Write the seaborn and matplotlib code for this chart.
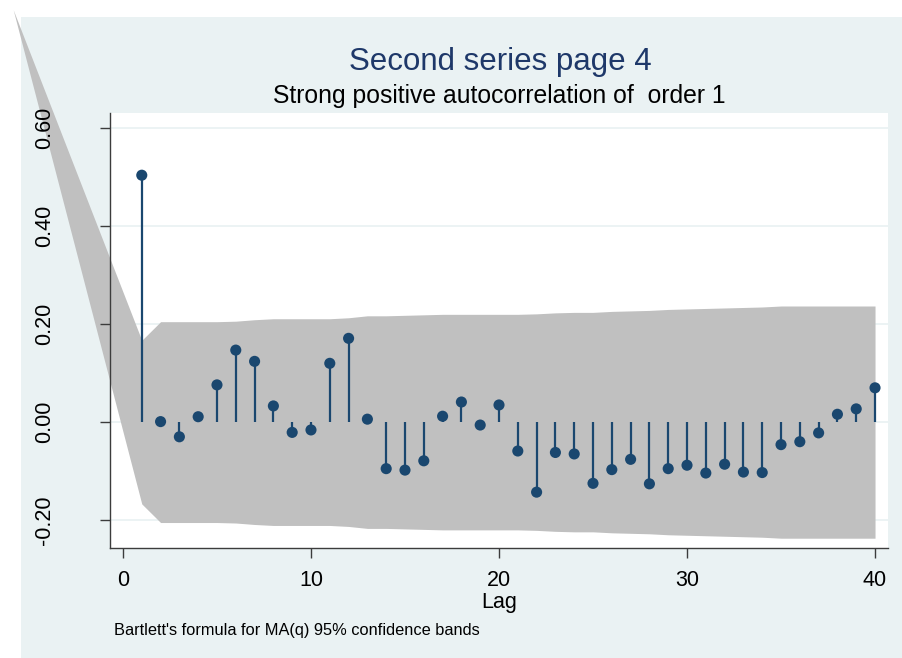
import matplotlib
matplotlib.use("Agg")
import matplotlib.pyplot as plt
from matplotlib.patches import Rectangle
import numpy as np
import pandas as pd
import seaborn as sns

# Autocorrelations by lag
lags = list(range(1, 41))
acf = [0.504, 0.001, -0.030, 0.011, 0.076, 0.147, 0.124, 0.033, -0.021, -0.016,
       0.120, 0.171, 0.006, -0.095, -0.098, -0.079, 0.012, 0.041, -0.006, 0.035,
       -0.059, -0.143, -0.062, -0.065, -0.125, -0.097, -0.076, -0.126, -0.095, -0.088,
       -0.104, -0.086, -0.102, -0.103, -0.046, -0.040, -0.022, 0.016, 0.027, 0.070]

# Half-width of the Bartlett 95% confidence band at each lag
band_half = [0.167, 0.205, 0.205, 0.205, 0.205, 0.206, 0.209, 0.211, 0.211, 0.211,
             0.211, 0.213, 0.217, 0.217, 0.218, 0.219, 0.220, 0.220, 0.220, 0.220,
             0.220, 0.221, 0.223, 0.224, 0.224, 0.226, 0.227, 0.228, 0.230, 0.231,
             0.232, 0.233, 0.234, 0.235, 0.237, 0.237, 0.237, 0.237, 0.237, 0.237]
# Leading vertex of the band polygon
band_tip_lag = -5.84
band_tip_val = 0.842

x_ticks = [0, 10, 20, 30, 40]
y_ticks = [-0.20, 0.00, 0.20, 0.40, 0.60]
y_tick_labels = ["-0.20", "0.00", "0.20", "0.40", "0.60"]

title = "Second series page 4"
subtitle = "Strong positive autocorrelation of  order 1"
x_title = "Lag"
note = "Bartlett's formula for MA(q) 95% confidence bands"

navy = "#1A476F"
bg = "#EAF2F3"
axis_col = "#3C3C3C"

sns.set_style("white")
plt.rcParams["font.family"] = ["Liberation Sans", "DejaVu Sans"]

W, H = 902, 658
fig = plt.figure(figsize=(W / 100, H / 100), dpi=100, facecolor="white")
fig.patches.append(Rectangle((21 / W, 0), 1 - 21 / W, 1 - 17 / H,
                             transform=fig.transFigure, facecolor=bg,
                             edgecolor="none", zorder=-10))

ax = fig.add_axes([110 / W, 1 - 548 / H, 778 / W, 435 / H])
ax.set_zorder(1)
ax.set_facecolor("white")
ax.set_axisbelow(False)

# horizontal grid beneath the band
for t in y_ticks:
    ax.axhline(t, color=bg, lw=1.3, zorder=0.5)

df = pd.DataFrame({"lag": lags, "acf": acf})

band_x = [band_tip_lag] + lags
band_hi = [band_tip_val] + band_half
band_lo = [band_tip_val] + [-h for h in band_half]
ax.fill_between(band_x, band_lo, band_hi, color="#C0C0C0", linewidth=0,
                zorder=1, clip_on=False)

ax.vlines(df["lag"], 0, df["acf"], color=navy, lw=1.6, zorder=2)
sns.scatterplot(data=df, x="lag", y="acf", ax=ax, color=navy, s=64,
                edgecolor="none", linewidth=0, zorder=3, legend=False)

ax.set_xlim(-0.69, 40.69)
ax.set_ylim(-0.257, 0.631)
ax.set_xticks(x_ticks)
ax.set_xticklabels([str(t) for t in x_ticks])
ax.set_yticks(y_ticks)
ax.set_yticklabels(y_tick_labels, rotation=90, va="center")
ax.set_xlabel("")
ax.set_ylabel("")

for s in ["top", "right"]:
    ax.spines[s].set_visible(False)
for s in ["left", "bottom"]:
    ax.spines[s].set_color(axis_col)
    ax.spines[s].set_linewidth(1.0)
    ax.spines[s].set_zorder(4)

ax.tick_params(axis="both", direction="out", length=7.5, width=1.0,
               color=axis_col, labelsize=15.5, labelcolor="black",
               bottom=True, left=True)
ax.tick_params(axis="x", pad=8)
ax.tick_params(axis="y", pad=32)

fig.text(500 / W, 1 - 70 / H, title, ha="center", va="baseline",
         fontsize=22.5, color="#1E3869")
fig.text(499 / W, 1 - 103 / H, subtitle, ha="center", va="baseline",
         fontsize=17.8, color="black")
fig.text(499 / W, 1 - 608 / H, x_title, ha="center", va="baseline",
         fontsize=15.5, color="black")
fig.text(114 / W, 1 - 635 / H, note, ha="left", va="baseline",
         fontsize=11.8, color="black")

fig.savefig("out.png", dpi=100, facecolor=fig.get_facecolor())
